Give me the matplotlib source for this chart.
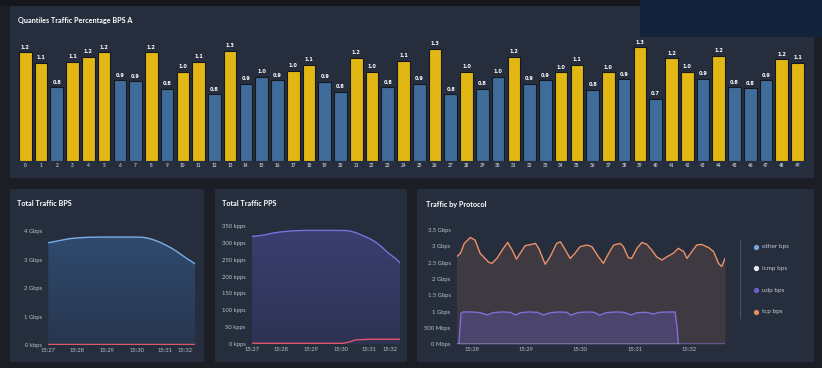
# -*- coding: utf-8 -*-

import numpy as np
import matplotlib
matplotlib.use('Agg')
import matplotlib.pyplot as plt
from matplotlib.patches import Rectangle, Polygon
from matplotlib.lines import Line2D
from matplotlib.colors import LinearSegmentedColormap

plt.rcParams['font.family'] = ['Lato', 'DejaVu Sans']

# ---- data ----
quantile_idx = list(range(50))
quantile_val = [1.24, 1.12, 0.84, 1.13, 1.19, 1.24, 0.92, 0.91, 1.24, 0.82,
                1.02, 1.13, 0.76, 1.26, 0.88, 0.96, 0.92, 1.03, 1.10, 0.90,
                0.79, 1.18, 1.02, 0.84, 1.14, 0.88, 1.28, 0.76, 1.02, 0.82,
                0.96, 1.19, 0.88, 0.92, 1.01, 1.10, 0.81, 1.01, 0.93, 1.30,
                0.71, 1.17, 1.02, 0.94, 1.20, 0.84, 0.83, 0.92, 1.16, 1.12]

time_ticks = [27.0, 27.98, 29.0, 30.02, 30.97, 31.65]
time_labels = ['15:27', '15:28', '15:29', '15:30', '15:31', '15:32']

bps_t = [27.0, 27.2, 27.4, 27.7, 27.96, 28.3, 28.76, 29.66, 30.0, 30.23,
         30.4, 30.57, 30.8, 31.02, 31.2, 31.37, 31.55, 31.71, 31.85, 32.0]
bps_in = [3.6, 3.64, 3.68, 3.74, 3.77, 3.79, 3.8, 3.8, 3.8, 3.79,
          3.76, 3.71, 3.62, 3.51, 3.41, 3.3, 3.17, 3.05, 2.96, 2.86]
bps_out_t = [27.0, 32.0]
bps_out = [0.04, 0.04]

pps_t = [27.0, 27.2, 27.45, 27.7, 28.01, 28.4, 28.8, 29.7, 30.0, 30.26,
         30.5, 30.71, 30.95, 31.16, 31.35, 31.5, 31.65, 31.78, 31.9, 32.0]
pps_in = [318, 320, 323, 328, 332, 335, 336, 336, 336, 335,
          330, 322, 313, 303, 290, 278, 266, 258, 249, 241]
pps_out_t = [27.0, 30.1, 30.3, 30.5, 31.0, 32.0]
pps_out = [3, 3, 7, 13, 15, 15]

proto_ticks = [28, 29, 30, 31, 32]
proto_labels = ['15:28', '15:29', '15:30', '15:31', '15:32']

tcp_t = [27.72, 27.79, 27.86, 27.97, 28.06, 28.15, 28.31, 28.37, 28.46, 28.58,
         28.66, 28.74, 28.82, 28.89, 28.98, 29.10, 29.17, 29.23, 29.35, 29.44,
         29.56, 29.63, 29.72, 29.81, 29.90, 29.99, 30.12, 30.21, 30.33, 30.42,
         30.52, 30.61, 30.73, 30.79, 30.88, 30.94, 31.04, 31.13, 31.22, 31.31,
         31.40, 31.50, 31.59, 31.71, 31.80, 31.90, 31.96, 32.05, 32.14, 32.23,
         32.36, 32.45, 32.54, 32.60, 32.66]
tcp_bps = [2.68, 2.79, 3.09, 3.27, 3.19, 2.79, 2.51, 2.48, 2.63, 2.94,
           3.12, 2.89, 2.61, 2.79, 3.02, 3.06, 3.09, 2.94, 2.45, 2.68,
           3.09, 3.14, 2.89, 2.63, 2.79, 2.99, 3.04, 2.99, 2.68, 2.48,
           2.79, 3.04, 3.09, 2.99, 2.65, 2.63, 2.94, 3.12, 3.06, 2.89,
           2.68, 2.58, 2.68, 2.79, 2.94, 2.84, 2.63, 2.84, 3.04, 3.06,
           2.96, 2.84, 2.48, 2.38, 2.63]

udp_t = [27.72, 27.76, 27.80, 27.84, 28.0, 28.15, 28.28, 28.40, 28.55, 28.70,
         28.80, 28.90, 29.05, 29.20, 29.32, 29.45, 29.60, 29.75, 29.82, 29.95,
         30.10, 30.25, 30.35, 30.48, 30.65, 30.80, 30.93, 31.05, 31.20, 31.35,
         31.45, 31.65, 31.74, 31.78, 31.80, 32.66]
udp_bps = [0.0, 0.0, 0.95, 0.99, 0.99, 0.97, 0.90, 0.97, 0.99, 0.98,
           0.90, 0.97, 0.99, 0.98, 0.90, 0.97, 0.99, 0.98, 0.89, 0.97,
           0.99, 0.98, 0.89, 0.97, 0.99, 0.98, 0.90, 0.97, 0.98, 0.93,
           0.98, 0.99, 0.99, 0.5, 0.0, 0.0]

icmp_t = [27.72, 31.80]
icmp_bps = [0.01, 0.01]
other_t = [27.72, 32.66]
other_bps = [0.0, 0.0]

legend_names = ['other bps', 'icmp bps', 'udp bps', 'tcp bps']
legend_colors = ['#73a7dc', '#e8e8ee', '#6a5fd0', '#e88a5c']

# ---- style ----
W, H = 822, 368
BG = '#1b1e25'
PANEL = '#262e3e'
YELLOW = '#e3b713'
BLUE = '#3f6c9a'
TXT = '#b9c0cc'


def box(x0, y0, x1, y1):
    # pixel box -> figure fraction [left, bottom, width, height]
    return [x0 / W, 1 - y1 / H, (x1 - x0) / W, (y1 - y0) / H]


def panel(fig, x0, y0, x1, y1, color=PANEL, z=0):
    l, b, w, h = box(x0, y0, x1, y1)
    fig.add_artist(Rectangle((l, b), w, h, transform=fig.transFigure,
                             facecolor=color, edgecolor='none', zorder=z))


def gradient_fill(ax, x, y, top, bottom, ymax, z=1):
    verts = [(x[0], 0)] + list(zip(x, y)) + [(x[-1], 0)]
    clip = Polygon(verts, facecolor='none', edgecolor='none')
    ax.add_patch(clip)
    cmap = LinearSegmentedColormap.from_list('g', [bottom, top])
    grad = np.linspace(0, 1, 256).reshape(-1, 1)
    img = ax.imshow(grad, extent=[x[0], x[-1], 0, ymax], origin='lower',
                    aspect='auto', cmap=cmap, zorder=z)
    img.set_clip_path(clip)


def style_axes(ax):
    ax.set_facecolor('none')
    for s in ax.spines.values():
        s.set_visible(False)
    ax.tick_params(length=0, colors=TXT, labelsize=4.2)
    ax.tick_params(axis='y', pad=4.5)
    ax.tick_params(axis='x', pad=2)


fig = plt.figure(figsize=(W / 100, H / 100), dpi=100, facecolor=BG)
panel(fig, 0, 0, W, 6, color='#15171c')

# top panel + the dark blue block sitting over its corner
panel(fig, 10, 6, 814, 178)
panel(fig, 640, 0, W, 37, color='#13233c', z=1)
fig.text(18 / W, 1 - 20.5 / H, 'Quantiles Traffic Percentage BPS A',
         color='white', fontsize=5.2, fontweight='bold', va='center')

ax = fig.add_axes(box(17.4, 38.4, 805.4, 160.7))
style_axes(ax)
colors = [YELLOW if v >= 1.0 else BLUE for v in quantile_val]
ax.bar(quantile_idx, quantile_val, width=0.8, color=colors,
       edgecolor='#15181d', linewidth=0.8)
for i, v in zip(quantile_idx, quantile_val):
    ax.text(i, v + 0.03, '%.1f' % v, ha='center', va='bottom',
            color='white', fontsize=3.6, fontweight='bold',
            family='DejaVu Sans')
ax.set_xlim(-0.5, 49.5)
ax.set_ylim(0, 1.4)
ax.set_yticks([])
ax.set_xticks(quantile_idx)
ax.set_xticklabels([str(i) for i in quantile_idx], fontsize=3.4,
                   fontweight='bold')

# ---- Total Traffic BPS ----
panel(fig, 10, 189, 204, 362)
fig.text(17 / W, 1 - 204 / H, 'Total Traffic BPS', color='white',
         fontsize=5.2, fontweight='bold', va='center')
ax1 = fig.add_axes(box(48.3, 225.7, 195, 345))
style_axes(ax1)
gradient_fill(ax1, bps_t, bps_in, '#304d72', '#28364f', 4.2)
ax1.plot(bps_t, bps_in, color='#7aaee6', lw=1.0, zorder=3)
ax1.plot(bps_out_t, bps_out, color='#e0566e', lw=1.0, zorder=3)
ax1.set_xlim(27.0, 32.0)
ax1.set_ylim(0, 4.2)
ax1.set_xticks(time_ticks)
ax1.set_xticklabels(time_labels)
ax1.set_yticks([0, 1, 2, 3, 4])
ax1.set_yticklabels(['0 kbps', '1 Gbps', '2 Gbps', '3 Gbps', '4 Gbps'])

# ---- Total Traffic PPS ----
panel(fig, 215, 189, 407, 362)
fig.text(222 / W, 1 - 204 / H, 'Total Traffic PPS', color='white',
         fontsize=5.2, fontweight='bold', va='center')
ax2 = fig.add_axes(box(251.7, 218.9, 400, 344.3))
style_axes(ax2)
gradient_fill(ax2, pps_t, pps_in, '#3d3f72', '#2e3354', 370)
ax2.plot(pps_t, pps_in, color='#7570dc', lw=1.0, zorder=3)
ax2.plot(pps_out_t, pps_out, color='#e0566e', lw=1.0, zorder=3)
ax2.set_xlim(27.0, 32.0)
ax2.set_ylim(0, 370)
ax2.set_xticks(time_ticks)
ax2.set_xticklabels(time_labels)
ax2.set_yticks(range(0, 351, 50))
ax2.set_yticklabels(['%d kpps' % v for v in range(0, 351, 50)])

# ---- Traffic by Protocol ----
panel(fig, 417, 189, 814, 362)
fig.text(426 / W, 1 - 204 / H, 'Traffic by Protocol', color='white',
         fontsize=5.2, fontweight='bold', va='center')
ax3 = fig.add_axes(box(456.7, 223.5, 725, 344.3))
style_axes(ax3)
ax3.fill_between(tcp_t, tcp_bps, 0, color='#e88a5c', alpha=0.13,
                 lw=0, zorder=1)
ax3.fill_between(udp_t, udp_bps, 0, color='#6a5fd0', alpha=0.3,
                 lw=0, zorder=2)
ax3.plot(other_t, other_bps, color=legend_colors[0], lw=1.0, zorder=3)
ax3.plot(udp_t, udp_bps, color='#7d70d8', lw=1.0, zorder=4)
ax3.plot(icmp_t, icmp_bps, color='#e8e8ee', lw=1.0, zorder=5)
ax3.plot(tcp_t, tcp_bps, color='#ec9268', lw=1.0, zorder=6)
ax3.set_xlim(27.72, 32.66)
ax3.set_ylim(0, 3.7)
ax3.set_xticks(proto_ticks)
ax3.set_xticklabels(proto_labels)
ax3.set_yticks([0, 0.5, 1, 1.5, 2, 2.5, 3, 3.5])
ax3.set_yticklabels(['0 Mbps', '500 Mbps', '1 Gbps', '1.5 Gbps', '2 Gbps',
                     '2.5 Gbps', '3 Gbps', '3.5 Gbps'])

# legend on the right of the protocol panel
fig.add_artist(Line2D([740 / W, 740 / W], [1 - 240 / H, 1 - 318 / H],
                      transform=fig.transFigure, color='#465063', lw=0.8))
for k, (name, c) in enumerate(zip(legend_names, legend_colors)):
    yy = 1 - (246.7 + k * 21.7) / H
    fig.add_artist(Line2D([756 / W], [yy], transform=fig.transFigure,
                          marker='o', markersize=2.8, color=c, lw=0))
    fig.text(762 / W, yy, name, color='#c3c9d6', fontsize=4.6, va='center')

fig.savefig('out.png', dpi=100, facecolor=BG)
